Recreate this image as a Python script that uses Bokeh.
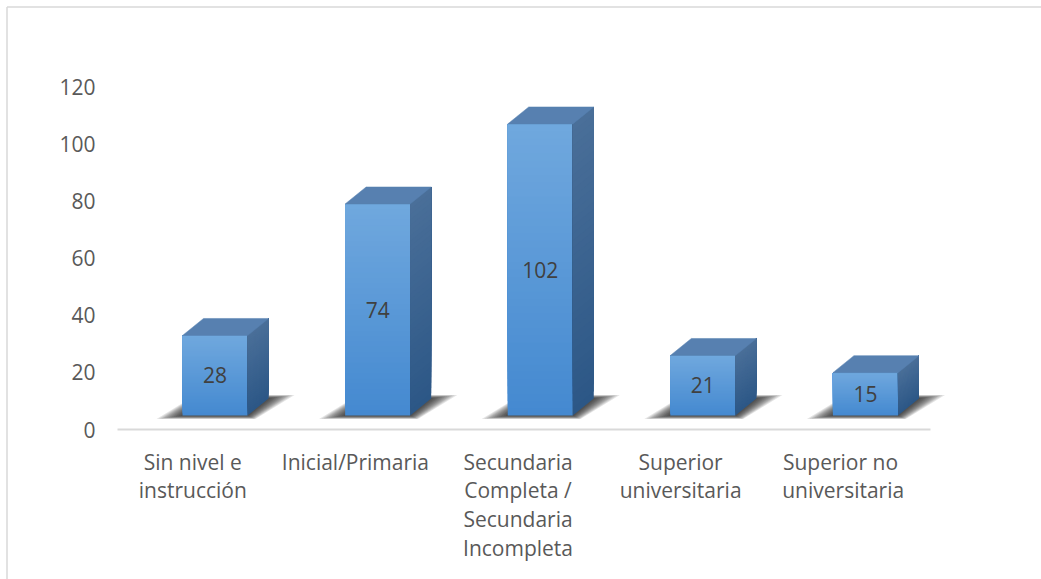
from bokeh.plotting import figure
from bokeh.models import Range1d
from bokeh.core.properties import value
from bokeh.embed import file_html
from bokeh.resources import INLINE

# ---- data ----
categories = ["Sin nivel e\ninstrucción", "Inicial/Primaria",
              "Secundaria\nCompleta /\nSecundaria\nIncompleta",
              "Superior\nuniversitaria", "Superior  no\nuniversitaria"]
values = [28, 74, 102, 21, 15]
y_ticks = [0, 20, 40, 60, 80, 100, 120]

# ---- geometry (pixel scale helpers) ----
W, H = 1041, 579
X0, Y0 = 117, 429          # pixel position of data (0, 0)
PX_X = 162.6               # pixels per category slot
PX_Y = 343 / 120           # pixels per value unit


def ux(px):
    return px / PX_X


def uy(px):
    return px / PX_Y


p = figure(width=W, height=H, output_backend="svg", toolbar_location=None,
           x_range=Range1d(-X0 / PX_X, (W - X0) / PX_X),
           y_range=Range1d(-(H - Y0) / PX_Y, Y0 / PX_Y),
           x_axis_location=None, y_axis_location=None, min_border=0)
p.grid.visible = False
p.outline_line_color = None
p.background_fill_color = "white"
p.border_fill_color = "white"

FONT = value("Open Sans")


def hx(c):
    return tuple(int(c[i:i + 2], 16) for i in (1, 3, 5))


def lerp(c1, c2, t):
    a, b = hx(c1), hx(c2)
    return "#%02x%02x%02x" % tuple(int(round(a[i] + (b[i] - a[i]) * t)) for i in range(3))


# chart border (left and top)
bx = ux(6.5 - X0)
by = uy(Y0 - 6.5)
p.segment(x0=[bx, bx], y0=[by, by], x1=[bx, (W - X0) / PX_X], y1=[uy(Y0 - H), by],
          line_color="#d9d9d9", line_width=1.5)

# category axis line
p.segment(x0=[0], y0=[0], x1=[len(values)], y1=[0], line_color="#d9d9d9", line_width=2)

FLOOR = uy(14)            # front face bottom (floor depth)
DX, DY = ux(21), uy(17)   # depth offset
L_OFF, R_OFF = 0.40, 0.80

FRONT_TOP, FRONT_BOT = "#70a8de", "#4489d0"
SIDE_TOP, SIDE_BOT = "#4a6f99", "#2c5786"
TOP_FACE = "#5780b0"
N = 40

for i, v in enumerate(values):
    xl, xr = i + L_OFF, i + R_OFF
    yb, yt = FLOOR, FLOOR + v

    # soft shadow on floor
    for k in range(11):
        e = ux(26 - k * 2.4)
        ev = uy(3.5 - k * 0.3)
        p.patch(x=[xl - e, xr + e * 0.3, xr + DX + e, xl + DX - e * 0.3],
                y=[yb - ev, yb - ev, yb + DY + ev, yb + DY + ev],
                fill_color="#101010", fill_alpha=0.11, line_color=None)

    # front face (vertical gradient, overlapping layers to avoid seams)
    lefts, rights, bots, tops, cols = [], [], [], [], []
    for k in range(N - 1, -1, -1):
        y0 = yt - (yt - yb) * (k + 1) / N
        lefts.append(xl)
        rights.append(xr)
        bots.append(y0)
        tops.append(yt)
        cols.append(lerp(FRONT_TOP, FRONT_BOT, (k + 0.5) / N))
    p.quad(left=lefts, right=rights, bottom=bots, top=tops,
           fill_color=cols, line_color=None)

    # side face
    xs, ys, scols = [], [], []
    for k in range(N - 1, -1, -1):
        y0 = yt - (yt - yb) * (k + 1) / N
        xs.append([xr, xr + DX, xr + DX, xr])
        ys.append([y0, y0 + DY, yt + DY, yt])
        scols.append(lerp(SIDE_TOP, SIDE_BOT, (k + 0.5) / N))
    p.patches(xs=xs, ys=ys, fill_color=scols, line_color=None)

    # top face
    p.patch(x=[xl, xr, xr + DX, xl + DX], y=[yt, yt, yt + DY, yt + DY],
            fill_color=TOP_FACE, line_color=TOP_FACE, line_width=0.5)

# data labels
p.text(x=[i + (L_OFF + R_OFF) / 2 for i in range(len(values))],
       y=[FLOOR + v / 2 for v in values], text=[str(v) for v in values],
       text_align="center", text_baseline="middle", text_font=FONT,
       text_font_size="21px", text_color="#404040")

# y tick labels
p.text(x=[ux(95 - X0)] * len(y_ticks), y=y_ticks, text=[str(t) for t in y_ticks],
       text_align="right", text_baseline="middle", text_font=FONT,
       text_font_size="21px", text_color="#595959")

# category labels (one text per line)
lx, ly, lt = [], [], []
for i, c in enumerate(categories):
    for k, line in enumerate(c.split("\n")):
        lx.append(i + 0.5 - ux(6))
        ly.append(-uy(32) - k * uy(28.7))
        lt.append(line)
p.text(x=lx, y=ly, text=lt, text_align="center", text_baseline="middle",
       text_font=FONT, text_font_size="21px", text_color="#595959")

open("out.html", "w").write(file_html(p, INLINE))
